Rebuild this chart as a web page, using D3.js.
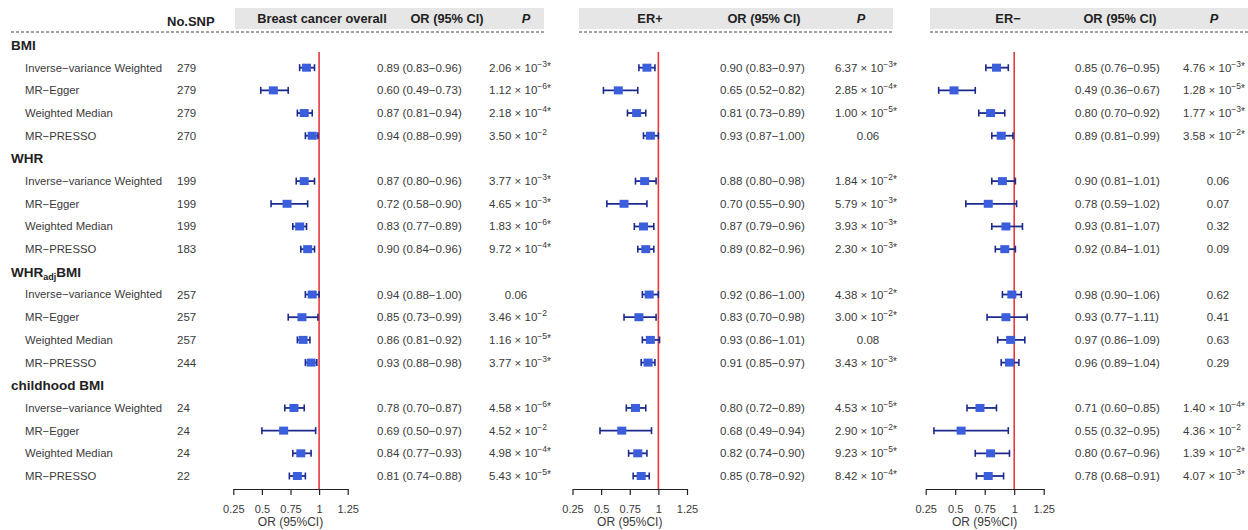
<!DOCTYPE html>
<html><head><meta charset="utf-8">
<script src="https://cdn.jsdelivr.net/npm/d3@7"></script>
<style>
body{margin:0;background:#fff;}
svg{display:block;font-family:"Liberation Sans",Arial,sans-serif;}
</style></head><body>
<svg id="chart" width="1248" height="530"></svg>
<script>
const groups = ["BMI","WHR","WHRadjBMI","childhood BMI"];
const methods = ["Inverse−variance Weighted","MR−Egger","Weighted Median","MR−PRESSO"];
const nSNP = [279,279,279,270, 199,199,199,183, 257,257,257,244, 24,24,24,22];
const panelTitles = ["Breast cancer overall","ER+","ER−"];
const tickValues = [0.25,0.5,0.75,1,1.25];
const tickLabels = ["0.25","0.5","0.75","1","1.25"];

const orOverall = [0.89,0.60,0.87,0.94, 0.87,0.72,0.83,0.90, 0.94,0.85,0.86,0.93, 0.78,0.69,0.84,0.81];
const loOverall = [0.83,0.49,0.81,0.88, 0.80,0.58,0.77,0.84, 0.88,0.73,0.81,0.88, 0.70,0.50,0.77,0.74];
const hiOverall = [0.96,0.73,0.94,0.99, 0.96,0.90,0.89,0.96, 1.00,0.99,0.92,0.98, 0.87,0.97,0.93,0.88];
const pOverall = ["2.06e-3*","1.12e-6*","2.18e-4*","3.50e-2", "3.77e-3*","4.65e-3*","1.83e-6*","9.72e-4*", "0.06","3.46e-2","1.16e-5*","3.77e-3*", "4.58e-6*","4.52e-2","4.98e-4*","5.43e-5*"];

const orERpos = [0.90,0.65,0.81,0.93, 0.88,0.70,0.87,0.89, 0.92,0.83,0.93,0.91, 0.80,0.68,0.82,0.85];
const loERpos = [0.83,0.52,0.73,0.87, 0.80,0.55,0.79,0.82, 0.86,0.70,0.86,0.85, 0.72,0.49,0.74,0.78];
const hiERpos = [0.97,0.82,0.89,1.00, 0.98,0.90,0.96,0.96, 1.00,0.98,1.01,0.97, 0.89,0.94,0.90,0.92];
const pERpos = ["6.37e-3*","2.85e-4*","1.00e-5*","0.06", "1.84e-2*","5.79e-3*","3.93e-3*","2.30e-3*", "4.38e-2*","3.00e-2*","0.08","3.43e-3*", "4.53e-5*","2.90e-2*","9.23e-5*","8.42e-4*"];

const orERneg = [0.85,0.49,0.80,0.89, 0.90,0.78,0.93,0.92, 0.98,0.93,0.97,0.96, 0.71,0.55,0.80,0.78];
const loERneg = [0.76,0.36,0.70,0.81, 0.81,0.59,0.81,0.84, 0.90,0.77,0.86,0.89, 0.60,0.32,0.67,0.68];
const hiERneg = [0.95,0.67,0.92,0.99, 1.01,1.02,1.07,1.01, 1.06,1.11,1.09,1.04, 0.85,0.95,0.96,0.91];
const pERneg = ["4.76e-3*","1.28e-5*","1.77e-3*","3.58e-2*", "0.06","0.07","0.32","0.09", "0.62","0.41","0.63","0.29", "1.40e-4*","4.36e-2","1.39e-2*","4.07e-3*"];

// ---- layout ----
const svg = d3.select("#chart");
const TXT = "#3a3a3a";
const y = d3.scaleLinear().domain([0,19]).range([45,476]);
const axisY = 489;

const panels = [
  {title: panelTitles[0], or: orOverall, lo: loOverall, hi: hiOverall, p: pOverall,
   range:[233.3,347.7], box:[235,544], dash:[11,544], titleX:322, orHX:447, pHX:526, orX:377, pSci:489, pPlain:516},
  {title: panelTitles[1], or: orERpos, lo: loERpos, hi: hiERpos, p: pERpos,
   range:[572.5,687], box:[579,893], dash:[579,893], titleX:650, orHX:764, pHX:861, orX:720, pSci:835, pPlain:868},
  {title: panelTitles[2], or: orERneg, lo: loERneg, hi: hiERneg, p: pERneg,
   range:[925.7,1043.7], box:[930,1248], dash:[930,1248], titleX:1008, orHX:1120, pHX:1214, orX:1075, pSci:1183, pPlain:1218}
];

const rowOf = i => Math.floor(i/4)*5 + 1 + (i%4);

// header
svg.append("text").attr("x",167).attr("y",21).attr("dy","0.35em")
  .attr("font-size","13px").attr("font-weight","bold").attr("fill","#222").text("No.SNP");

panels.forEach(pn => {
  svg.append("rect").attr("x",pn.box[0]).attr("y",8).attr("width",pn.box[1]-pn.box[0]).attr("height",21).attr("fill","#e6e6e6");
  svg.append("line").attr("x1",pn.dash[0]).attr("x2",pn.dash[1]).attr("y1",32).attr("y2",32)
    .attr("stroke","#444").attr("stroke-width",1).attr("stroke-dasharray","3,2");
  const hdr = [[pn.titleX,pn.title,"normal"],[pn.orHX,"OR (95% CI)","normal"],[pn.pHX,"P","italic"]];
  hdr.forEach(h => svg.append("text").attr("x",h[0]).attr("y",19).attr("dy","0.35em").attr("text-anchor","middle")
    .attr("font-size","12.8px").attr("font-weight","bold").attr("font-style",h[2]).attr("fill","#222").text(h[1]));
});

// group labels
groups.forEach((g,gi) => {
  const t = svg.append("text").attr("x",11).attr("y",y(gi*5)).attr("dy","0.35em")
    .attr("font-size","13.5px").attr("font-weight","bold").attr("fill","#222");
  if (g === "WHRadjBMI") {
    t.append("tspan").text("WHR");
    t.append("tspan").attr("font-size","9px").attr("dy","3").text("adj");
    t.append("tspan").attr("dy","-3").text("BMI");
  } else t.text(g);
});

// method labels & SNP
nSNP.forEach((n,i) => {
  const yy = y(rowOf(i));
  svg.append("text").attr("x",25).attr("y",yy).attr("dy","0.35em").attr("font-size","11.3px").attr("fill",TXT).text(methods[i%4]);
  svg.append("text").attr("x",177).attr("y",yy).attr("dy","0.35em").attr("font-size","11.5px").attr("fill",TXT).text(n);
});

function drawP(p, xSci, xPlain, yy) {
  const m = p.match(/^([\d.]+)e(-?\d+)(\*?)$/);
  if (!m) {
    svg.append("text").attr("x",xPlain).attr("y",yy).attr("dy","0.35em").attr("text-anchor","middle")
      .attr("font-size","11.5px").attr("fill",TXT).text(p);
    return;
  }
  const t = svg.append("text").attr("x",xSci).attr("y",yy).attr("dy","0.35em").attr("font-size","11.5px").attr("fill",TXT);
  t.append("tspan").text(m[1] + " × 10");
  t.append("tspan").attr("font-size","8.5px").attr("dy","-5").text("−" + m[2].replace("-",""));
  if (m[3]) t.append("tspan").attr("font-size","10px").attr("dy","3").text("*");
}

const f2 = d3.format(".2f");
panels.forEach(pn => {
  const x = d3.scaleLinear().domain([0.25,1.25]).range(pn.range);
  const g = svg.append("g");
  // reference line
  g.append("line").attr("x1",x(1)).attr("x2",x(1)).attr("y1",52).attr("y2",axisY)
    .attr("stroke","#e8383d").attr("stroke-width",1.6);
  // axis
  const ax = g.append("g").attr("transform",`translate(0,${axisY})`)
    .call(d3.axisBottom(x).tickValues(tickValues).tickFormat((d,i)=>tickLabels[i]).tickSize(6).tickSizeOuter(0).tickPadding(10));
  ax.select(".domain").attr("stroke","#222").attr("stroke-width",1.2);
  ax.selectAll(".tick line").attr("stroke","#222").attr("stroke-width",1.2);
  ax.selectAll(".tick text").attr("font-size","11px").attr("fill",TXT).attr("font-family","\"Liberation Sans\",Arial,sans-serif");
  g.append("text").attr("x",x(0.75)).attr("y",526).attr("text-anchor","middle").attr("font-size","12px").attr("fill",TXT).text("OR (95%CI)");

  pn.or.forEach((v,i) => {
    const yy = y(rowOf(i));
    const x0 = x(pn.lo[i]), x1 = x(pn.hi[i]);
    g.append("line").attr("x1",x0).attr("x2",x1).attr("y1",yy).attr("y2",yy).attr("stroke","#1c2a8c").attr("stroke-width",1.8);
    [x0,x1].forEach(xx => g.append("line").attr("x1",xx).attr("x2",xx).attr("y1",yy-3.5).attr("y2",yy+3.5).attr("stroke","#1c2a8c").attr("stroke-width",1.6));
    g.append("rect").attr("x",x(v)-4.5).attr("y",yy-4).attr("width",9).attr("height",8).attr("fill","#3b5fdc");
    svg.append("text").attr("x",pn.orX).attr("y",yy).attr("dy","0.35em").attr("font-size","11.5px").attr("fill",TXT)
      .text(`${f2(v)} (${f2(pn.lo[i])}−${f2(pn.hi[i])})`);
    drawP(pn.p[i], pn.pSci, pn.pPlain, yy);
  });
});
</script>
</body></html>
